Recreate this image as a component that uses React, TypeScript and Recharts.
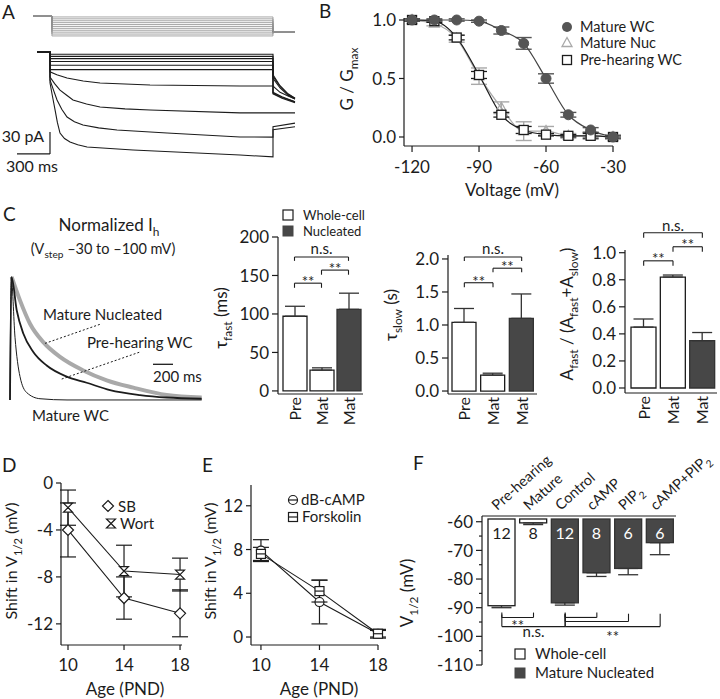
import React from 'react';
import { LineChart, Line, XAxis, YAxis, BarChart, Bar, Cell, ErrorBar, ReferenceLine, LabelList } from 'recharts';

const W = 720;
const H = 699;
const FONT = 'Lato, "Open Sans", "DejaVu Sans", sans-serif';
const INK = '#1c1c1c';
const DARK = '#474747';
const GRAYDOT = '#555555';
const LIGHT = '#a9a9a9';

// ===== Panel A: voltage protocol (mV vs ms) =====
const protoHolding = -35;
const protoSteps = [-40, -50, -60, -70, -80, -90, -100, -110, -120, -130, -140];
const protoTail = -120;
const protoTimes = [-36, 136, 2145, 2345];

// ===== Panel A: current traces (t ms, i pA) =====
const flat1 = [{ t: 0, i: 0 }, { t: 118, i: 0 }, { t: 118, i: -3 }, { t: 2145, i: -3 }, { t: 2145, i: -31 }, { t: 2209, i: -46 }, { t: 2282, i: -57 }, { t: 2345, i: -63 }];
const flat2 = [{ t: 0, i: 0 }, { t: 118, i: 0 }, { t: 118, i: -6 }, { t: 2145, i: -6 }, { t: 2145, i: -33 }, { t: 2209, i: -47 }, { t: 2282, i: -58 }, { t: 2345, i: -63 }];
const flat3 = [{ t: 0, i: 0 }, { t: 118, i: 0 }, { t: 118, i: -9 }, { t: 2145, i: -9 }, { t: 2145, i: -36 }, { t: 2209, i: -49 }, { t: 2282, i: -59 }, { t: 2345, i: -64 }];
const flat4 = [{ t: 0, i: 0 }, { t: 118, i: 0 }, { t: 118, i: -13 }, { t: 2145, i: -13 }, { t: 2145, i: -55 }, { t: 2227, i: -61 }, { t: 2345, i: -68 }];
const flat5 = [{ t: 0, i: 0 }, { t: 118, i: 0 }, { t: 118, i: -18 }, { t: 2145, i: -18 }, { t: 2145, i: -56 }, { t: 2227, i: -62 }, { t: 2345, i: -68 }];
const flat6 = [{ t: 0, i: 0 }, { t: 118, i: 0 }, { t: 118, i: -24 }, { t: 2145, i: -24 }, { t: 2145, i: -57 }, { t: 2227, i: -63 }, { t: 2345, i: -69 }];
const traceT1 = [{ t: 0, i: 0 }, { t: 118, i: 0 }, { t: 118, i: -27 }, { t: 180, i: -31 }, { t: 273, i: -35.5 }, { t: 420, i: -39.5 }, { t: 573, i: -42.3 }, { t: 1027, i: -45 }, { t: 1845, i: -46.4 }, { t: 2145, i: -46.4 }, { t: 2209, i: -55 }, { t: 2282, i: -60 }, { t: 2345, i: -64 }];
const traceT2 = [{ t: 0, i: 0 }, { t: 118, i: 0 }, { t: 118, i: -34 }, { t: 160, i: -43 }, { t: 209, i: -52 }, { t: 270, i: -59 }, { t: 327, i: -65.5 }, { t: 450, i: -71 }, { t: 573, i: -75 }, { t: 800, i: -77.5 }, { t: 1027, i: -79 }, { t: 1845, i: -83 }, { t: 2145, i: -83 }, { t: 2345, i: -83 }];
const traceT3 = [{ t: 0, i: 0 }, { t: 118, i: 0 }, { t: 118, i: -38 }, { t: 150, i: -52 }, { t: 182, i: -65.5 }, { t: 225, i: -78 }, { t: 273, i: -88.7 }, { t: 340, i: -95 }, { t: 418, i: -99.6 }, { t: 560, i: -103.5 }, { t: 727, i: -106.4 }, { t: 1182, i: -110.5 }, { t: 1845, i: -115.9 }, { t: 2145, i: -116 }, { t: 2145, i: -102 }, { t: 2345, i: -97 }];
const traceT4 = [{ t: 0, i: 0 }, { t: 118, i: 0 }, { t: 118, i: -42 }, { t: 140, i: -60 }, { t: 164, i: -79 }, { t: 185, i: -96 }, { t: 209, i: -110.5 }, { t: 250, i: -118 }, { t: 300, i: -122.8 }, { t: 370, i: -126.5 }, { t: 455, i: -129.6 }, { t: 873, i: -133.7 }, { t: 1845, i: -140.5 }, { t: 2145, i: -143 }, { t: 2145, i: -106 }, { t: 2345, i: -102 }];
const aTraces = [flat1, flat2, flat3, flat4, flat5, flat6, traceT1, traceT2, traceT3, traceT4];
const aScaleBar = { t0: -182, t1: 118, i0: -139, i1: -109 };

// ===== Panel B: activation curves =====
const bVoltages = [-120, -110, -100, -90, -80, -70, -60, -50, -40, -30];
const bMatureWC = [1.0, 1.0, 1.0, 0.99, 0.91, 0.8, 0.5, 0.19, 0.06, 0.0];
const bMatureWCErr = [0.01, 0.01, 0.01, 0.01, 0.03, 0.05, 0.04, 0.02, 0.02, 0.01];
const bMatureNuc = [1.0, 0.97, 0.84, 0.52, 0.25, 0.05, 0.05, 0.01, 0.01, 0.0];
const bMatureNucErr = [0.01, 0.02, 0.03, 0.07, 0.05, 0.08, 0.04, 0.02, 0.03, 0.02];
const bPreWC = [1.0, 0.99, 0.85, 0.53, 0.19, 0.06, 0.02, 0.01, 0.01, 0.0];
const bPreWCErr = [0.01, 0.01, 0.02, 0.03, 0.02, 0.03, 0.01, 0.01, 0.02, 0.01];

// ===== Panel C: normalized traces (t ms, normalized) =====
const cMatureNuc = [{ t: 17, v: 1.0 }, { t: 100, v: 0.81 }, { t: 200, v: 0.62 }, { t: 333, v: 0.47 }, { t: 500, v: 0.35 }, { t: 733, v: 0.24 }, { t: 967, v: 0.16 }, { t: 1233, v: 0.1 }, { t: 1567, v: 0.04 }, { t: 1917, v: 0.02 }];
const cPreWC = [{ t: 0, v: 0 }, { t: 15, v: 1.0 }, { t: 67, v: 0.73 }, { t: 133, v: 0.54 }, { t: 233, v: 0.39 }, { t: 367, v: 0.28 }, { t: 567, v: 0.19 }, { t: 767, v: 0.14 }, { t: 1000, v: 0.08 }, { t: 1300, v: 0.04 }, { t: 1567, v: 0.02 }, { t: 1917, v: 0.01 }];
const cMatureWC = [{ t: 0, v: 0 }, { t: 12, v: 1.0 }, { t: 50, v: 0.51 }, { t: 100, v: 0.19 }, { t: 167, v: 0.06 }, { t: 300, v: 0.01 }, { t: 570, v: 0 }, { t: 1917, v: 0 }];
const cPointers = [{ t0: 350, v0: 0.46, t1: 917, v1: 0.62 }, { t0: 517, v0: 0.17, t1: 1300, v1: 0.39 }];
const cScaleBar = { t0: 1430, t1: 1630, v: 0.29 };

// ===== Panel C: bar charts =====
const cCats = ['Pre', 'Mat', 'MatN'];
const cLabels = ['Pre', 'Mat', 'Mat'];
const cKinds = ['wc', 'wc', 'nuc'];
const tauFast = [97, 27, 106];
const tauFastErr = [13, 3, 21];
const tauSlow = [1.04, 0.24, 1.1];
const tauSlowErr = [0.21, 0.03, 0.37];
const aFrac = [0.45, 0.82, 0.35];
const aFracErr = [0.06, 0.015, 0.06];

// ===== Panel D =====
const dAges = [10, 14, 18];
const dSB = [-4.0, -9.8, -11.1];
const dSBErr = [2.3, 1.8, 2.0];
const dWort = [-2.1, -7.5, -7.8];
const dWortErr = [1.5, 2.2, 1.4];

// ===== Panel E =====
const eCAMP = [7.9, 3.2, 0.3];
const eCAMPErr = [1.0, 2.0, 0.3];
const eFsk = [7.6, 4.2, 0.3];
const eFskErr = [0.6, 1.0, 0.4];

// ===== Panel F =====
const fCats = ['Pre-hearing', 'Mature', 'Control', 'cAMP', 'PIP2', 'cAMP+PIP2'];
const fKinds = ['wc', 'wc', 'nuc', 'nuc', 'nuc', 'nuc'];
const fV = [-89.3, -60.4, -88.3, -77.8, -76.3, -67.3];
const fErr = [0.7, 0.6, 0.8, 1.3, 2.2, 4.2];
const fN = [12, 8, 12, 8, 6, 6];

// ===== significance brackets (data units) =====
type Br = { a: string; b: string; y: number; tip: number; text?: string; dy?: number };
const fastBrackets: Br[] = [
  { a: 'Pre', b: 'MatN', y: 174, tip: 169, text: 'n.s.', dy: -3 },
  { a: 'Mat', b: 'MatN', y: 157, tip: 151, text: '**', dy: 4 },
  { a: 'Pre', b: 'Mat', y: 140, tip: 134, text: '**', dy: 4 },
];
const slowBrackets: Br[] = [
  { a: 'Pre', b: 'MatN', y: 2.03, tip: 1.97, text: 'n.s.', dy: -3 },
  { a: 'Mat', b: 'MatN', y: 1.86, tip: 1.8, text: '**', dy: 4 },
  { a: 'Pre', b: 'Mat', y: 1.64, tip: 1.57, text: '**', dy: 4 },
];
const fracBrackets: Br[] = [
  { a: 'Pre', b: 'MatN', y: 1.148, tip: 1.11, text: 'n.s.', dy: -2 },
  { a: 'Mat', b: 'MatN', y: 1.044, tip: 1.007, text: '**', dy: 3 },
  { a: 'Pre', b: 'Mat', y: 0.94, tip: 0.904, text: '**', dy: 3 },
];
const fBrackets: Br[] = [
  { a: 'Pre-hearing', b: 'Mature', y: -93.4, tip: -91.7, text: '**', dy: 14 },
  { a: 'Pre-hearing', b: 'Control', y: -96.6, tip: -92.4, text: 'n.s.', dy: 10 },
  { a: 'Control', b: 'cAMP', y: -93.4, tip: -91.7 },
  { a: 'Control', b: 'PIP2', y: -94.8, tip: -92.1 },
  { a: 'Control', b: 'cAMP+PIP2', y: -96.6, tip: -92.1, text: '**', dy: 15 },
];

// ---------- helpers ----------
// margins so that the plot area lands on (l,t)-(r,b); axL/axB/axT = axis band sizes
const fr = (l: number, t: number, r: number, b: number, axL = 0, axB = 0, axT = 0) => ({
  left: l - axL,
  top: t - axT,
  right: W - r,
  bottom: H - b - axB,
});
const layer: React.CSSProperties = { position: 'absolute', left: 0, top: 0 };
const AX = { stroke: INK, strokeWidth: 1.2 };

const mkLeftTick = (o: { len?: number; gap?: number; fs?: number; fmt?: (v: number) => string; major?: (v: number) => boolean; minorLen?: number }) => (p: any) => {
  const v = p.payload?.value;
  const isMajor = o.major ? o.major(v) : true;
  const len = isMajor ? (o.len ?? 5) : (o.minorLen ?? 3);
  return (
    <g key={`lt-${v}`}>
      <line x1={p.x - len} x2={p.x} y1={p.y} y2={p.y} stroke={INK} strokeWidth={1.2} />
      {isMajor && (
        <text x={p.x - len - (o.gap ?? 3)} y={p.y} dy="0.36em" textAnchor="end" fontSize={o.fs ?? 17} fontFamily={FONT} fill={INK}>
          {o.fmt ? o.fmt(v) : String(v)}
        </text>
      )}
    </g>
  );
};
const mkBottomTick = (o: { len?: number; gap?: number; fs?: number }) => (p: any) => {
  const v = p.payload?.value;
  const len = o.len ?? 5;
  return (
    <g key={`bt-${v}`}>
      <line x1={p.x} x2={p.x} y1={p.y} y2={p.y + len} stroke={INK} strokeWidth={1.2} />
      <text x={p.x} y={p.y + len + (o.gap ?? 9)} dy="0.72em" textAnchor="middle" fontSize={o.fs ?? 17} fontFamily={FONT} fill={INK}>
        {String(v)}
      </text>
    </g>
  );
};
const rich = (parts: Array<[string, boolean?]>, fs: number) => {
  const out: React.ReactNode[] = [];
  let shifted = false;
  parts.forEach(([s, sub], k) => {
    if (sub && !shifted) {
      out.push(<tspan key={k} dy={fs * 0.3} fontSize={fs * 0.7}>{s}</tspan>);
      shifted = true;
    } else if (!sub && shifted) {
      out.push(<tspan key={k} dy={-fs * 0.3} fontSize={fs}>{s}</tspan>);
      shifted = false;
    } else {
      out.push(<tspan key={k} fontSize={sub ? fs * 0.7 : fs}>{s}</tspan>);
    }
  });
  return out;
};
const pipParts = (s: string): Array<[string, boolean?]> => {
  const out: Array<[string, boolean?]> = [];
  const pieces = s.split('PIP2');
  pieces.forEach((p, k) => {
    if (p) out.push([p]);
    if (k < pieces.length - 1) {
      out.push(['PIP']);
      out.push(['2', true]);
    }
  });
  return out;
};
const cRotTick = (p: any) => {
  const v = p.payload?.value;
  const lab = cLabels[cCats.indexOf(v)] ?? v;
  const x = p.x + 6;
  const y = p.y + 3;
  return (
    <text key={`ct-${v}`} transform={`rotate(-90 ${x} ${y})`} x={x} y={y} textAnchor="end" fontSize={16} fontFamily={FONT} fill={INK}>
      {lab}
    </text>
  );
};
const fTopTick = (p: any) => {
  const v = String(p.payload?.value ?? '');
  const x = p.x - 4.5;
  const y = p.y - 5;
  return (
    <text key={`ft-${v}`} transform={`rotate(-42 ${x} ${y})`} x={x} y={y} textAnchor="start" fontSize={14.5} fontFamily={FONT} fill={INK}>
      {rich(pipParts(v), 14.5)}
    </text>
  );
};

const bracketEls = (id: string, list: Br[]) =>
  list.flatMap((br, j) => {
    const lbl = br.text
      ? (p: any) => {
          const vb = p.viewBox || {};
          const cx = vb.x1 != null ? (vb.x1 + vb.x2) / 2 : (vb.x ?? 0) + (vb.width ?? 0) / 2;
          const cy = vb.y1 != null ? vb.y1 : vb.y ?? 0;
          return (
            <text x={cx} y={cy + (br.dy ?? 0)} textAnchor="middle" fontSize={15} fontFamily={FONT} fill={INK}>
              {br.text}
            </text>
          );
        }
      : undefined;
    return [
      <ReferenceLine key={`${id}${j}h`} segment={[{ x: br.a, y: br.y }, { x: br.b, y: br.y }]} stroke={INK} strokeWidth={1.1} ifOverflow="visible" label={lbl} />,
      <ReferenceLine key={`${id}${j}l`} segment={[{ x: br.a, y: br.y }, { x: br.a, y: br.tip }]} stroke={INK} strokeWidth={1.1} ifOverflow="visible" />,
      <ReferenceLine key={`${id}${j}r`} segment={[{ x: br.b, y: br.y }, { x: br.b, y: br.tip }]} stroke={INK} strokeWidth={1.1} ifOverflow="visible" />,
    ];
  });

// ---------- marker shapes ----------
const circleDot = (p: any) => (p.cx == null ? <g key={`n${p.index}`} /> : <circle key={`c${p.index}`} cx={p.cx} cy={p.cy} r={5} fill={GRAYDOT} stroke={GRAYDOT} />);
const triDot = (p: any) =>
  p.cx == null ? <g key={`n${p.index}`} /> : (
    <path key={`t${p.index}`} d={`M${p.cx},${p.cy - 5.5}L${p.cx + 5},${p.cy + 3.5}L${p.cx - 5},${p.cy + 3.5}Z`} fill="none" stroke={LIGHT} strokeWidth={1.3} />
  );
const sqDot = (p: any) =>
  p.cx == null ? <g key={`n${p.index}`} /> : <rect key={`s${p.index}`} x={p.cx - 4.5} y={p.cy - 4.5} width={9} height={9} fill="#fff" stroke={INK} strokeWidth={1.3} />;
const diamondDot = (p: any) =>
  p.cx == null ? <g key={`n${p.index}`} /> : (
    <path key={`d${p.index}`} d={`M${p.cx},${p.cy - 5.5}L${p.cx + 5.5},${p.cy}L${p.cx},${p.cy + 5.5}L${p.cx - 5.5},${p.cy}Z`} fill="#fff" stroke={INK} strokeWidth={1.2} />
  );
const hourDot = (p: any) =>
  p.cx == null ? <g key={`n${p.index}`} /> : (
    <path key={`h${p.index}`} d={`M${p.cx - 4.5},${p.cy - 4.5}L${p.cx + 4.5},${p.cy - 4.5}L${p.cx - 4.5},${p.cy + 4.5}L${p.cx + 4.5},${p.cy + 4.5}Z`} fill="#fff" stroke={INK} strokeWidth={1.2} />
  );
const circLineDot = (p: any) =>
  p.cx == null ? <g key={`n${p.index}`} /> : (
    <g key={`cl${p.index}`}>
      <circle cx={p.cx} cy={p.cy} r={4.5} fill="#fff" stroke={INK} strokeWidth={1.2} />
      <line x1={p.cx - 4.5} x2={p.cx + 4.5} y1={p.cy} y2={p.cy} stroke={INK} strokeWidth={1.2} />
    </g>
  );
const sqLineDot = (p: any) =>
  p.cx == null ? <g key={`n${p.index}`} /> : (
    <g key={`sl${p.index}`}>
      <rect x={p.cx - 4.5} y={p.cy - 4.5} width={9} height={9} fill="#fff" stroke={INK} strokeWidth={1.2} />
      <line x1={p.cx - 4.5} x2={p.cx + 4.5} y1={p.cy} y2={p.cy} stroke={INK} strokeWidth={1.2} />
    </g>
  );

// ---------- charts ----------
function ProtocolChart() {
  return (
    <div style={layer}>
      <LineChart width={W} height={H} margin={fr(33, 10, 295, 40)}>
        <XAxis type="number" dataKey="t" domain={[-36, 2345]} hide />
        <YAxis type="number" domain={[-161.3, -3.4]} hide />
        {protoSteps.map((s, k) => (
          <Line
            key={k}
            data={[
              { t: protoTimes[0], v: protoHolding },
              { t: protoTimes[1], v: protoHolding },
              { t: protoTimes[1], v: s },
              { t: protoTimes[2], v: s },
              { t: protoTimes[2], v: protoTail },
              { t: protoTimes[3], v: protoTail },
            ]}
            dataKey="v"
            type="linear"
            stroke="#8f8f8f"
            strokeWidth={0.8}
            dot={false}
            isAnimationActive={false}
          />
        ))}
      </LineChart>
    </div>
  );
}

function TraceChart() {
  return (
    <div style={layer}>
      <LineChart width={W} height={H} margin={fr(10, 40, 295, 170)}>
        <XAxis type="number" dataKey="t" domain={[-245.5, 2345]} hide />
        <YAxis type="number" domain={[-160.9, 16.4]} hide />
        {aTraces.map((tr, k) => (
          <Line key={k} data={tr} dataKey="i" type="linear" stroke={INK} strokeWidth={1.1} dot={false} isAnimationActive={false} />
        ))}
        <ReferenceLine segment={[{ x: aScaleBar.t0, y: aScaleBar.i0 }, { x: aScaleBar.t1, y: aScaleBar.i0 }]} stroke={INK} strokeWidth={1.2} ifOverflow="visible" />
        <ReferenceLine segment={[{ x: aScaleBar.t1, y: aScaleBar.i0 }, { x: aScaleBar.t1, y: aScaleBar.i1 }]} stroke={INK} strokeWidth={1.2} ifOverflow="visible" />
      </LineChart>
    </div>
  );
}

function BoltzmannChart() {
  const rows = (vals: number[], errs: number[]) => bVoltages.map((v, k) => ({ v, y: vals[k], e: errs[k] }));
  return (
    <div style={layer}>
      <LineChart width={W} height={H} margin={fr(404, 18, 613, 146, 1, 1)}>
        <XAxis type="number" dataKey="v" domain={[-123.6, -30]} ticks={[-120, -90, -60, -30]} height={1} tickLine={false} tickSize={0} tickMargin={0} axisLine={AX} tick={mkBottomTick({ len: 6, gap: 9, fs: 17 })} interval={0} />
        <YAxis type="number" domain={[-0.077, 1.017]} ticks={[0, 0.5, 1]} width={1} tickLine={false} tickSize={0} tickMargin={0} axisLine={AX} tick={mkLeftTick({ len: 5, gap: 3, fs: 17, fmt: (v) => v.toFixed(1) })} interval={0} />
        <Line data={rows(bMatureNuc, bMatureNucErr)} dataKey="y" type="monotone" stroke={LIGHT} strokeWidth={1.3} dot={triDot} isAnimationActive={false}>
          <ErrorBar dataKey="e" width={8} stroke={LIGHT} strokeWidth={1.4} direction="y" />
        </Line>
        <Line data={rows(bPreWC, bPreWCErr)} dataKey="y" type="monotone" stroke={INK} strokeWidth={1.2} dot={sqDot} isAnimationActive={false}>
          <ErrorBar dataKey="e" width={8} stroke={INK} strokeWidth={1.3} direction="y" />
        </Line>
        <Line data={rows(bMatureWC, bMatureWCErr)} dataKey="y" type="monotone" stroke="#444" strokeWidth={1.2} dot={circleDot} isAnimationActive={false}>
          <ErrorBar dataKey="e" width={8} stroke={GRAYDOT} strokeWidth={1.4} direction="y" />
        </Line>
      </LineChart>
    </div>
  );
}

function NormTraceChart() {
  return (
    <div style={layer}>
      <LineChart width={W} height={H} margin={fr(10, 270, 202, 405)}>
        <XAxis type="number" dataKey="t" domain={[0, 1920]} hide />
        <YAxis type="number" domain={[-0.041, 1.057]} hide />
        <Line data={cMatureNuc} dataKey="v" type="monotone" stroke={LIGHT} strokeWidth={4} dot={false} isAnimationActive={false} />
        <Line data={cPreWC} dataKey="v" type="monotone" stroke={INK} strokeWidth={1.8} dot={false} isAnimationActive={false} />
        <Line data={cMatureWC} dataKey="v" type="monotone" stroke={INK} strokeWidth={1} dot={false} isAnimationActive={false} />
        {cPointers.map((pt, k) => (
          <ReferenceLine key={k} segment={[{ x: pt.t0, y: pt.v0 }, { x: pt.t1, y: pt.v1 }]} stroke={INK} strokeWidth={1} strokeDasharray="2 2" ifOverflow="visible" />
        ))}
        <ReferenceLine segment={[{ x: cScaleBar.t0, y: cScaleBar.v }, { x: cScaleBar.t1, y: cScaleBar.v }]} stroke={INK} strokeWidth={1.3} ifOverflow="visible" />
      </LineChart>
    </div>
  );
}

function SmallBar(props: {
  values: number[];
  errs: number[];
  box: [number, number, number, number];
  domain: [number, number];
  ticks: number[];
  fmt: (v: number) => string;
  pad: [number, number];
  barSize: number;
  brackets: Br[];
  id: string;
}) {
  const rows = cCats.map((k, j) => ({ k, kind: cKinds[j], val: props.values[j], ea: [0, props.errs[j]] }));
  const [l, t, r, b] = props.box;
  return (
    <div style={layer}>
      <BarChart width={W} height={H} margin={fr(l, t, r, b, 1, 1)} data={rows} barSize={props.barSize}>
        <XAxis dataKey="k" type="category" padding={{ left: props.pad[0], right: props.pad[1] }} height={1} tickLine={false} tickSize={0} tickMargin={0} axisLine={AX} tick={cRotTick} interval={0} />
        <YAxis type="number" domain={props.domain} ticks={props.ticks} width={1} tickLine={false} tickSize={0} tickMargin={0} axisLine={AX} tick={mkLeftTick({ len: 6, gap: 3, fs: 17, fmt: props.fmt })} interval={0} allowDataOverflow />
        <Bar dataKey="val" isAnimationActive={false}>
          {rows.map((rw, j) => (
            <Cell key={j} fill={rw.kind === 'wc' ? '#fff' : DARK} stroke={rw.kind === 'wc' ? INK : '#333'} strokeWidth={1.3} />
          ))}
          <ErrorBar dataKey="ea" width={10} stroke="#333" strokeWidth={1.3} direction="y" />
        </Bar>
        {bracketEls(props.id, props.brackets)}
      </BarChart>
    </div>
  );
}

function AgeChart(props: {
  box: [number, number, number, number];
  xDomain: [number, number];
  yDomain: [number, number];
  yTicks: number[];
  series: Array<{ vals: number[]; errs: number[]; dot: (p: any) => React.ReactElement }>;
}) {
  const [l, t, r, b] = props.box;
  return (
    <div style={layer}>
      <LineChart width={W} height={H} margin={fr(l, t, r, b, 1, 1)}>
        <XAxis type="number" dataKey="age" domain={props.xDomain} ticks={[10, 14, 18]} height={1} tickLine={false} tickSize={0} tickMargin={0} axisLine={AX} tick={mkBottomTick({ len: 5, gap: 9, fs: 17 })} interval={0} />
        <YAxis type="number" domain={props.yDomain} ticks={props.yTicks} width={1} tickLine={false} tickSize={0} tickMargin={0} axisLine={AX} tick={mkLeftTick({ len: 5, gap: 3, fs: 17 })} interval={0} />
        {props.series.map((s, k) => (
          <Line key={k} data={dAges.map((a, j) => ({ age: a, y: s.vals[j], e: s.errs[j] }))} dataKey="y" type="linear" stroke={INK} strokeWidth={1.1} dot={s.dot} isAnimationActive={false}>
            <ErrorBar dataKey="e" width={8} stroke={INK} strokeWidth={1.2} direction="y" />
          </Line>
        ))}
      </LineChart>
    </div>
  );
}

function FChart() {
  const rows = fCats.map((k, j) => ({ k, kind: fKinds[j], val: fV[j], ea: [fErr[j], 0], n: fN[j] }));
  const barShape = (p: any) => {
    const top = Math.min(p.y, p.y + p.height) + 3;
    const h = Math.max(Math.abs(p.height) - 3, 0);
    const wc = p.payload?.kind === 'wc';
    return <rect x={p.x} y={top} width={p.width} height={h} fill={wc ? '#fff' : DARK} stroke={wc ? INK : '#333'} strokeWidth={1.3} />;
  };
  const nLabel = (p: any) => {
    const top = Math.min(p.y, p.y + p.height);
    const wc = fKinds[p.index] === 'wc';
    return (
      <text x={p.x + p.width / 2} y={top + 17} dy="0.36em" textAnchor="middle" fontSize={16} fontFamily={FONT} fill={wc ? INK : '#fff'}>
        {p.value}
      </text>
    );
  };
  return (
    <div style={layer}>
      <BarChart width={W} height={H} margin={fr(482, 516, 676, 665, 1, 0, 1)} data={rows} barSize={27}>
        <XAxis dataKey="k" type="category" orientation="top" padding={{ left: 4, right: 0 }} height={1} tickLine={false} tickSize={0} tickMargin={0} axisLine={AX} tick={fTopTick} interval={0} />
        <YAxis
          type="number"
          domain={[-110, -58]}
          ticks={[-110, -105, -100, -95, -90, -85, -80, -75, -70, -65, -60]}
          width={1}
          tickLine={false}
          tickSize={0}
          tickMargin={0}
          axisLine={AX}
          tick={mkLeftTick({ len: 6, gap: 3, fs: 17, major: (v) => v % 10 === 0, minorLen: 3 })}
          interval={0}
          allowDataOverflow
        />
        <Bar dataKey="val" isAnimationActive={false} shape={barShape}>
          <ErrorBar dataKey="ea" width={10} stroke="#333" strokeWidth={1.3} direction="y" />
          <LabelList dataKey="n" content={nLabel} />
        </Bar>
        {bracketEls('f', fBrackets)}
      </BarChart>
    </div>
  );
}

function T(props: { x: number; y: number; s: React.ReactNode; fs?: number; anchor?: 'start' | 'middle' | 'end' }) {
  return (
    <text x={props.x} y={props.y} fontSize={props.fs ?? 15} textAnchor={props.anchor ?? 'start'} fontFamily={FONT} fill={INK}>
      {props.s}
    </text>
  );
}
function VLabel(props: { x: number; y: number; fs: number; parts: Array<[string, boolean?]> }) {
  return (
    <text transform={`rotate(-90 ${props.x} ${props.y})`} x={props.x} y={props.y} textAnchor="middle" fontSize={props.fs} fontFamily={FONT} fill={INK}>
      {rich(props.parts, props.fs)}
    </text>
  );
}

function Overlay() {
  return (
    <svg width={W} height={H} style={{ ...layer, pointerEvents: 'none' }}>
      {/* panel letters */}
      <T x={2} y={19} s="A" fs={19} />
      <T x={319} y={18} s="B" fs={19} />
      <T x={3} y={221} s="C" fs={19} />
      <T x={2} y={472} s="D" fs={19} />
      <T x={202} y={472} s="E" fs={19} />
      <T x={413} y={470} s="F" fs={19} />

      {/* panel A scale labels */}
      <T x={44} y={142} s="30 pA" fs={16} anchor="end" />
      <T x={6} y={172} s="300 ms" fs={16} />

      {/* panel B */}
      <VLabel x={353} y={79} fs={17} parts={[['G / G'], ['max', true]]} />
      <T x={512} y={196} s="Voltage (mV)" fs={17} anchor="middle" />
      <circle cx={567} cy={27} r={5} fill={GRAYDOT} />
      <T x={580} y={32} s="Mature WC" fs={14.5} />
      <path d="M567,37.5L572,46.5L562,46.5Z" fill="none" stroke={LIGHT} strokeWidth={1.3} />
      <T x={580} y={48} s="Mature Nuc" fs={14.5} />
      <rect x={562.5} y={55.5} width={9} height={9} fill="#fff" stroke={INK} strokeWidth={1.3} />
      <T x={580} y={65} s="Pre-hearing WC" fs={14.5} />

      {/* panel C traces */}
      <text x={109} y={231} fontSize={17} textAnchor="middle" fontFamily={FONT} fill={INK}>
        {rich([['Normalized I'], ['h', true]], 17)}
      </text>
      <text x={103} y={254} fontSize={14.5} textAnchor="middle" fontFamily={FONT} fill={INK}>
        {rich([['(V'], ['step', true], [' \u201330 to \u2013100 mV)']], 14.5)}
      </text>
      <T x={43} y={320} s="Mature Nucleated" fs={15} />
      <T x={87} y={348} s="Pre-hearing WC" fs={15} />
      <T x={32} y={421} s="Mature WC" fs={15} />
      <T x={153} y={382} s="200 ms" fs={15} />

      {/* panel C bar legend & labels */}
      <rect x={283} y={210} width={10} height={10} fill="#fff" stroke={INK} strokeWidth={1.2} />
      <T x={303} y={219.5} s="Whole-cell" fs={13} />
      <rect x={283} y={226} width={10} height={10} fill={DARK} stroke={DARK} />
      <T x={303} y={235.5} s="Nucleated" fs={13} />
      <VLabel x={227} y={318} fs={17} parts={[['\u03c4'], ['fast', true], [' (ms)']]} />
      <VLabel x={397} y={315} fs={17} parts={[['\u03c4'], ['slow', true], [' (s)']]} />
      <VLabel x={573} y={314} fs={17} parts={[['A'], ['fast', true], [' / (A'], ['fast', true], ['+A'], ['slow', true], [')']]} />

      {/* panel D */}
      <VLabel x={17} y={561} fs={16} parts={[['Shift in V'], ['1/2', true], [' (mV)']]} />
      <T x={125} y={695} s="Age (PND)" fs={17} anchor="middle" />
      <path d="M108,500.5L113.5,506L108,511.5L102.5,506Z" fill="#fff" stroke={INK} strokeWidth={1.2} />
      <T x={118} y={512} s="SB" fs={15} />
      <path d="M106.5,519L115.5,519L106.5,528L115.5,528Z" fill="#fff" stroke={INK} strokeWidth={1.2} />
      <T x={120} y={529} s="Wort" fs={15} />

      {/* panel E */}
      <VLabel x={216} y={561} fs={16} parts={[['Shift in V'], ['1/2', true], [' (mV)']]} />
      <T x={319} y={695} s="Age (PND)" fs={17} anchor="middle" />
      <circle cx={293} cy={500} r={4.5} fill="#fff" stroke={INK} strokeWidth={1.2} />
      <line x1={288.5} x2={297.5} y1={500} y2={500} stroke={INK} strokeWidth={1.2} />
      <T x={301} y={505} s="dB-cAMP" fs={15} />
      <rect x={288.5} y={512.5} width={9} height={9} fill="#fff" stroke={INK} strokeWidth={1.2} />
      <line x1={288.5} x2={297.5} y1={517} y2={517} stroke={INK} strokeWidth={1.2} />
      <T x={302} y={522} s="Forskolin" fs={15} />

      {/* panel F */}
      <VLabel x={413} y={593} fs={17} parts={[['V'], ['1/2', true], [' (mV)']]} />
      <rect x={515} y={649} width={10} height={10} fill="#fff" stroke={INK} strokeWidth={1.2} />
      <T x={535} y={659} s="Whole-cell" fs={15} />
      <rect x={515} y={668} width={10} height={10} fill={DARK} stroke={DARK} />
      <T x={535} y={678} s="Mature Nucleated" fs={15} />
    </svg>
  );
}

export default function App() {
  return (
    <div style={{ position: 'absolute', left: 0, top: 0, width: W, height: H, background: '#fff', overflow: 'hidden', fontFamily: FONT }}>
      <ProtocolChart />
      <TraceChart />
      <BoltzmannChart />
      <NormTraceChart />
      <SmallBar id="fa" values={tauFast} errs={tauFastErr} box={[278, 237, 363, 394]} domain={[-4, 200]} ticks={[0, 50, 100, 150, 200]} fmt={(v) => String(v)} pad={[3, 1]} barSize={24} brackets={fastBrackets} />
      <SmallBar id="sl" values={tauSlow} errs={tauSlowErr} box={[448, 255, 537, 394]} domain={[-0.045, 2.06]} ticks={[0, 0.5, 1, 1.5, 2]} fmt={(v) => v.toFixed(1)} pad={[2, 1]} barSize={24} brackets={slowBrackets} />
      <SmallBar id="fr" values={aFrac} errs={aFracErr} box={[625, 250, 717, 393]} domain={[-0.037, 1.02]} ticks={[0, 0.2, 0.4, 0.6, 0.8, 1]} fmt={(v) => v.toFixed(1)} pad={[4, 0]} barSize={25} brackets={fracBrackets} />
      <AgeChart
        box={[61, 483, 182, 645]}
        xDomain={[9.5, 18.14]}
        yDomain={[-13.8, 0]}
        yTicks={[-12, -8, -4, 0]}
        series={[
          { vals: dSB, errs: dSBErr, dot: diamondDot },
          { vals: dWort, errs: dWortErr, dot: hourDot },
        ]}
      />
      <AgeChart
        box={[251, 485, 378, 645]}
        xDomain={[9.32, 18]}
        yDomain={[-0.73, 13.9]}
        yTicks={[0, 4, 8, 12]}
        series={[
          { vals: eCAMP, errs: eCAMPErr, dot: circLineDot },
          { vals: eFsk, errs: eFskErr, dot: sqLineDot },
        ]}
      />
      <FChart />
      <Overlay />
    </div>
  );
}
